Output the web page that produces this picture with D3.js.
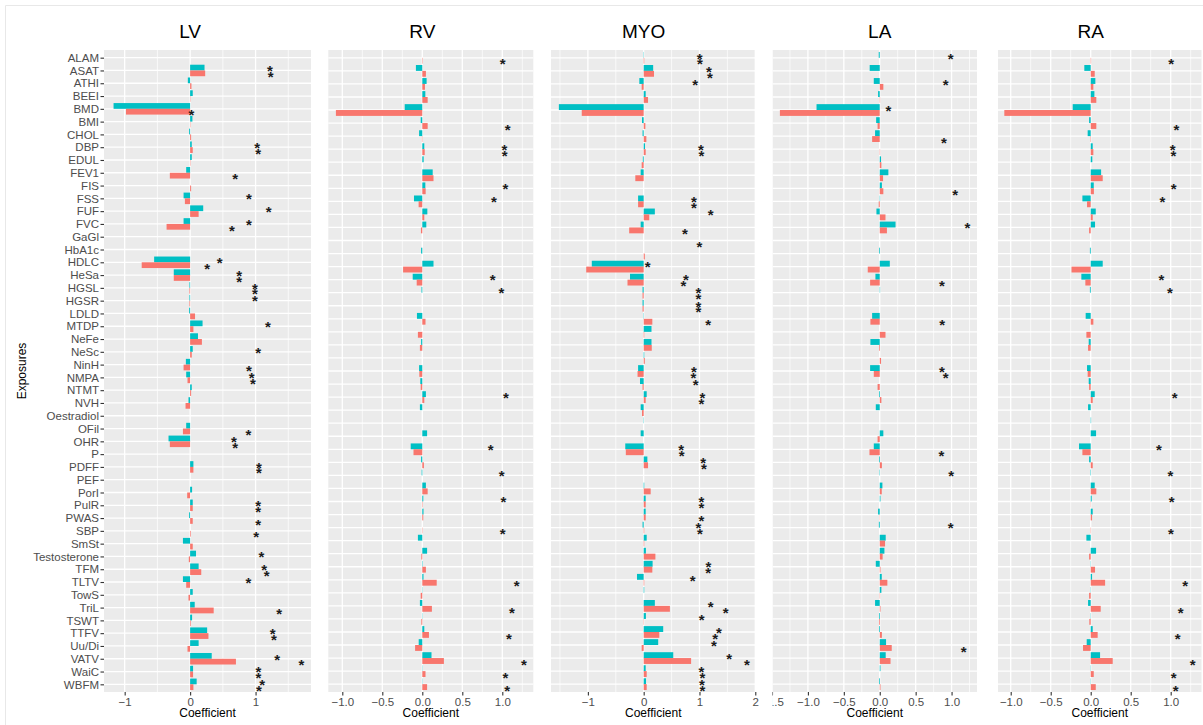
<!DOCTYPE html>
<html>
<head>
<meta charset="utf-8">
<script src="https://cdn.jsdelivr.net/npm/d3@7"></script>
<style>
  body { margin: 0; background: #fff; }
  svg { display: block; font-family: "Liberation Sans", Arial, sans-serif; }
</style>
</head>
<body>
<div id="chart"></div>
<script>
// exposures, LV panel has all 50, the other panels were fitted without "P"
const categories = ["ALAM","ASAT","ATHI","BEEI","BMD","BMI","CHOL","DBP","EDUL","FEV1",
  "FIS","FSS","FUF","FVC","GaGl","HbA1c","HDLC","HeSa","HGSL","HGSR",
  "LDLD","MTDP","NeFe","NeSc","NinH","NMPA","NTMT","NVH","Oestradiol","OFil",
  "OHR","P","PDFF","PEF","PorI","PulR","PWAS","SBP","SmSt","Testosterone",
  "TFM","TLTV","TowS","TriL","TSWT","TTFV","Uu/Di","VATV","WaiC","WBFM"]
const cardiacCategories = categories.filter(c => c !== "P")

// LV (50 values)
const lvBlue = [0, 0.22, -0.035, 0.04, -1.17, 0.035, -0.015, 0.025, 0.025, -0.06,
  0, -0.1, 0.2, -0.1, 0, 0, -0.55, -0.25, -0.01, -0.01,
  -0.015, 0.19, 0.12, 0.04, -0.065, -0.06, 0.025, -0.025, 0, -0.06,
  -0.33, 0, 0.05, 0, 0.03, 0.04, -0.015, 0, -0.11, 0.09,
  0.13, -0.11, 0.04, 0.07, 0.03, 0.26, 0.13, 0.33, 0.045, 0.1]
const lvRed = [0, 0.23, 0.02, 0.005, -0.98, 0.005, 0.015, 0.04, 0.005, -0.31,
  0.015, -0.08, 0.13, -0.36, 0, 0, -0.74, -0.25, -0.01, -0.01,
  0.075, 0.05, 0.18, 0.025, -0.1, -0.04, 0.015, -0.07, 0, -0.11,
  -0.31, 0, 0.05, 0, -0.045, 0.04, 0.04, 0.01, 0.04, -0.02,
  0.17, -0.06, -0.025, 0.36, 0.01, 0.28, -0.04, 0.70, 0.045, 0.05]
const lvSigBlue = ["ASAT","DBP","FSS","FUF","FVC","HDLC","HeSa","HGSL","HGSR","MTDP","NeSc",
  "NMPA","OHR","PDFF","PulR","Testosterone","TFM","TLTV","TTFV","VATV","WaiC","WBFM"]
const lvSigRed = ["ASAT","BMD","DBP","FEV1","FVC","HDLC","HeSa","HGSL","NinH","NMPA","OFil",
  "OHR","PDFF","PulR","PWAS","SBP","TFM","TriL","TTFV","VATV","WaiC","WBFM"]

// RV (49 values)
const rvBlue = [0, -0.08, 0.054, 0.038, -0.22, -0.02, -0.04, 0.025, 0.017, 0.13,
  0.038, -0.104, 0.063, 0.05, 0, -0.015, 0.14, -0.12, -0.01, 0,
  -0.067, 0, -0.015, 0, -0.04, -0.025, 0.045, -0.03, 0, 0.06,
  -0.145, -0.015, -0.008, 0.045, 0.0125, 0.015, 0, -0.055, 0.06, 0.005,
  0.015, 0.003, -0.03, 0.003, 0.025, -0.045, 0.115, 0.003, 0.003]
const rvRed = [0.005, 0.045, 0.033, 0.067, -1.08, 0.067, -0.005, 0.03, 0, 0.14,
  0.042, -0.046, 0.025, -0.017, 0, 0, -0.24, -0.07, 0, 0,
  0.04, -0.055, -0.03, 0, -0.037, -0.02, 0.025, 0, 0, 0,
  -0.11, 0.02, 0, 0.067, 0.005, 0.012, 0.004, 0, -0.012, 0.045,
  0.18, -0.02, 0.12, -0.012, 0.083, -0.09, 0.27, 0.04, 0.06]
const rvSigBlue = ["DBP","FIS","FSS","HeSa","HGSL","NTMT","OHR","PEF","PulR"]
const rvSigRed = ["ALAM","BMI","DBP","SBP","TLTV","TriL","TTFV","VATV","WaiC","WBFM"]

// MYO (49 values)
const myoBlue = [0.005, 0.17, -0.078, 0.036, -1.52, -0.03, -0.02, 0.024, -0.015, -0.054,
  0, -0.1, 0.2, -0.054, 0, 0, -0.93, -0.245, -0.02, -0.02,
  0.005, 0.14, 0.14, 0.01, -0.1, -0.066, 0.054, -0.054, 0.005, -0.054,
  -0.33, 0.066, 0, 0.01, 0.036, 0.036, -0.02, 0.054, 0.04, 0.16,
  -0.12, 0.01, 0.2, 0.04, 0.35, 0.26, 0.53, 0.036, 0.042]
const myoRed = [0.01, 0.185, -0.036, 0.078, -1.11, 0.03, 0.048, 0.036, -0.036, -0.15,
  0, -0.1, 0.1, -0.26, 0, 0.02, -1.03, -0.29, -0.02, -0.02,
  0.155, 0.01, 0.145, 0.02, -0.11, -0.02, 0.036, -0.03, 0, 0,
  -0.32, 0.078, 0, 0.125, 0.036, 0.036, 0.01, 0.01, 0.21, 0.155,
  0.01, 0, 0.47, 0.005, 0.28, -0.036, 0.85, 0.054, 0.054]
const myoSigBlue = ["ALAM","ASAT","ATHI","DBP","FSS","FUF","HDLC","HeSa","HGSL","HGSR","NinH",
  "NMPA","NTMT","OHR","PDFF","PulR","SBP","TFM","TLTV","TriL","TSWT","TTFV","Uu/Di","VATV","WaiC","WBFM"]
const myoSigRed = ["ALAM","ASAT","DBP","FSS","FVC","GaGl","HeSa","HGSL","HGSR","LDLD","NinH",
  "NTMT","OHR","PDFF","PulR","PWAS","SBP","TFM","TriL","TTFV","VATV","WaiC","WBFM"]

// LA (49 values)
const laBlue = [-0.014, -0.14, -0.083, -0.023, -0.88, -0.05, -0.065, 0, 0.018, 0.12,
  0.03, 0.005, -0.046, 0.22, 0, -0.01, 0.14, -0.06, 0.005, 0,
  -0.106, 0, -0.13, 0, -0.134, 0, -0.01, -0.055, 0, 0.05,
  -0.083, -0.01, -0.005, 0.037, 0.01, -0.023, -0.012, 0.083, 0.065, -0.055,
  0.028, 0.023, -0.065, -0.01, -0.01, 0.088, 0.083, 0.01, -0.01]
const laRed = [0, 0, 0.05, 0.005, -1.39, -0.03, -0.106, 0.005, 0.023, 0.046,
  0.05, -0.014, 0.08, 0.1, 0, 0, -0.167, -0.134, 0, 0,
  -0.13, 0.08, -0.01, 0.018, -0.083, -0.03, 0.023, 0, 0, -0.03,
  -0.143, 0.03, 0, 0.028, 0, 0.003, 0, 0.074, 0.04, 0.01,
  0.106, 0.005, 0.01, -0.01, 0.03, 0.167, 0.15, 0, 0.01]
const laSigBlue = ["ALAM","ATHI","BMD","FVC","NinH","PEF","SBP"]
const laSigRed = ["CHOL","FIS","HeSa","LDLD","NinH","OHR","Uu/Di"]

// RA (49 values)
const raBlue = [0, -0.08, 0.058, 0.046, -0.225, -0.02, -0.038, 0.025, 0.02, 0.13,
  0.038, -0.104, 0.063, 0.054, 0, -0.01, 0.15, -0.117, -0.01, 0,
  -0.063, 0, -0.025, 0, -0.046, -0.025, 0.05, -0.033, 0.005, 0.067,
  -0.146, -0.02, -0.005, 0.05, 0.0125, 0.025, 0, -0.054, 0.067, 0.003,
  0.017, 0.003, -0.033, 0.003, 0.025, -0.05, 0.117, 0.003, 0.003]
const raRed = [0.005, 0.05, 0.033, 0.07, -1.08, 0.07, -0.005, 0.033, 0, 0.15,
  0.04, -0.046, 0.025, -0.02, 0, 0, -0.24, -0.067, 0, 0,
  0.033, -0.054, -0.033, 0, -0.038, -0.02, 0.025, 0, 0, 0,
  -0.104, 0.025, 0, 0.07, 0.003, 0.017, 0.004, 0, -0.02, 0.054,
  0.18, -0.02, 0.125, -0.017, 0.087, -0.096, 0.275, 0.038, 0.063]
const raSigBlue = ["DBP","FIS","FSS","HeSa","HGSL","NTMT","OHR","PEF","PulR"]
const raSigRed = ["ALAM","BMI","DBP","SBP","TLTV","TriL","TTFV","VATV","WaiC","WBFM"]

// x ticks per panel
const lvTicks = [-1, 0, 1], lvMinor = [-0.5, 0.5, 1.5]
const rvTicks = [-1, -0.5, 0, 0.5, 1], rvMinor = [-0.75, -0.25, 0.25, 0.75, 1.25]
const myoTicks = [-1, 0, 1, 2], myoMinor = [-1.5, -0.5, 0.5, 1.5]
const laTicks = [-1.5, -1, -0.5, 0, 0.5, 1], laMinor = [-1.25, -0.75, -0.25, 0.25, 0.75, 1.25]
const raTicks = [-1, -0.5, 0, 0.5, 1], raMinor = [-0.75, -0.25, 0.25, 0.75, 1.25]

const blueColor = "#00BFC4"
const redColor = "#F8766D"

const width = 1203
const height = 725
const plotTop = 50, plotBottom = 692

const panels = [
  { name: "LV", cats: categories, blue: lvBlue, red: lvRed, sigBlue: lvSigBlue, sigRed: lvSigRed,
    range: [104, 311], domain: [-1.316, 1.847], ticks: lvTicks, minor: lvMinor, fmt: d3.format("d"), yAxis: true },
  { name: "RV", cats: cardiacCategories, blue: rvBlue, red: rvRed, sigBlue: rvSigBlue, sigRed: rvSigRed,
    range: [328.3, 533.3], domain: [-1.175, 1.3875], ticks: rvTicks, minor: rvMinor, fmt: d3.format(".1f") },
  { name: "MYO", cats: cardiacCategories, blue: myoBlue, red: myoRed, sigBlue: myoSigBlue, sigRed: myoSigRed,
    range: [551, 755.5], domain: [-1.661, 2.004], ticks: myoTicks, minor: myoMinor, fmt: d3.format("d") },
  { name: "LA", cats: cardiacCategories, blue: laBlue, red: laRed, sigBlue: laSigBlue, sigRed: laSigRed,
    range: [772.5, 977], domain: [-1.493, 1.354], ticks: laTicks, minor: laMinor, fmt: d3.format(".1f"), clipLeft: 772.5 },
  { name: "RA", cats: cardiacCategories, blue: raBlue, red: raRed, sigBlue: raSigBlue, sigRed: raSigRed,
    range: [998, 1201.5], domain: [-1.159, 1.385], ticks: raTicks, minor: raMinor, fmt: d3.format(".1f") },
]

const svg = d3.select("#chart").append("svg")
  .attr("width", width)
  .attr("height", height)

svg.append("path")
  .attr("d", `M5.5,${height} V5.5 H${width}`)
  .attr("fill", "none")
  .attr("stroke", "#e8e8e8")

const defs = svg.append("defs")

panels.forEach(p => {
  let x = d3.scaleLinear().domain(p.domain).range(p.range)
  let y = d3.scalePoint().domain(p.cats).range([plotTop, plotBottom]).padding(0.6)
  let barH = y.step() * 0.45

  let g = svg.append("g").attr("class", "panel panel-" + p.name)
  if (p.clipLeft) {
    defs.append("clipPath").attr("id", "clip-" + p.name)
      .append("rect").attr("x", p.clipLeft).attr("y", 0).attr("width", width).attr("height", height)
    g.attr("clip-path", `url(#clip-${p.name})`)
  }

  // background
  g.append("rect")
    .attr("x", p.range[0]).attr("y", plotTop)
    .attr("width", p.range[1] - p.range[0]).attr("height", plotBottom - plotTop)
    .attr("fill", "#EBEBEB")

  // grid
  g.append("g").selectAll("line")
    .data(p.minor)
    .join("line")
    .attr("x1", d => x(d)).attr("x2", d => x(d))
    .attr("y1", plotTop).attr("y2", plotBottom)
    .attr("stroke", "#fff").attr("stroke-width", 0.7)

  g.append("g").selectAll("line")
    .data(p.ticks.filter(d => x(d) >= p.range[0]))
    .join("line")
    .attr("x1", d => x(d)).attr("x2", d => x(d))
    .attr("y1", plotTop).attr("y2", plotBottom)
    .attr("stroke", "#fff").attr("stroke-width", 1.3)

  g.append("g").selectAll("line")
    .data(p.cats)
    .join("line")
    .attr("x1", p.range[0]).attr("x2", p.range[1])
    .attr("y1", d => y(d)).attr("y2", d => y(d))
    .attr("stroke", "#fff").attr("stroke-width", 1.3)

  // bars
  let rows = p.cats.map((c, i) => ({ cat: c, blue: p.blue[i], red: p.red[i] }))

  g.append("g").attr("class", "bars-blue").selectAll("rect")
    .data(rows)
    .join("rect")
    .attr("x", d => x(Math.min(0, d.blue)))
    .attr("width", d => Math.abs(x(d.blue) - x(0)))
    .attr("y", d => y(d.cat) - barH)
    .attr("height", barH)
    .attr("fill", blueColor)

  g.append("g").attr("class", "bars-red").selectAll("rect")
    .data(rows)
    .join("rect")
    .attr("x", d => x(Math.min(0, d.red)))
    .attr("width", d => Math.abs(x(d.red) - x(0)))
    .attr("y", d => y(d.cat))
    .attr("height", barH)
    .attr("fill", redColor)

  // significance stars sit at coefficient + 1
  let stars = []
  rows.forEach(d => {
    if (p.sigBlue.includes(d.cat)) stars.push({ v: d.blue + 1, cy: y(d.cat) - barH / 2 })
    if (p.sigRed.includes(d.cat)) stars.push({ v: d.red + 1, cy: y(d.cat) + barH / 2 })
  })

  g.append("g").attr("class", "stars").selectAll("text")
    .data(stars)
    .join("text")
    .attr("x", d => x(d.v))
    .attr("y", d => d.cy)
    .attr("dy", "0.58em")
    .attr("text-anchor", "middle")
    .style("font-size", "15px")
    .style("font-weight", "bold")
    .attr("fill", "#1a1a1a")
    .text("*")

  // x axis
  let xAxis = d3.axisBottom(x).tickValues(p.ticks).tickFormat(p.fmt).tickSize(3.5).tickPadding(2.5)
  g.append("g")
    .attr("class", "x axis")
    .attr("transform", `translate(0,${plotBottom})`)
    .call(xAxis)
    .call(a => a.select(".domain").remove())
    .call(a => a.selectAll("line").attr("stroke", "#333").attr("stroke-width", 1.1))
    .call(a => a.selectAll("text")
      .attr("fill", "#4D4D4D")
      .style("font-size", "11.5px")
      .style("font-family", "'Liberation Sans', Arial, sans-serif"))

  g.append("text")
    .text("Coefficient")
    .attr("x", (p.range[0] + p.range[1]) / 2)
    .attr("y", 717)
    .attr("text-anchor", "middle")
    .attr("fill", "#000")
    .style("font-size", "12px")

  // panel title sits over the zero line
  g.append("text")
    .text(p.name)
    .attr("x", x(0))
    .attr("y", 38)
    .attr("text-anchor", "middle")
    .attr("fill", "#000")
    .style("font-size", "19px")

  if (p.yAxis) {
    g.append("g")
      .attr("class", "y axis")
      .attr("transform", `translate(${p.range[0]},0)`)
      .call(d3.axisLeft(y).tickSize(3.5).tickPadding(1.5))
      .call(a => a.select(".domain").remove())
      .call(a => a.selectAll("line").attr("stroke", "#333").attr("stroke-width", 1.1))
      .call(a => a.selectAll("text")
        .attr("fill", "#4D4D4D")
        .style("font-size", "11.5px")
        .style("font-family", "'Liberation Sans', Arial, sans-serif"))

    g.append("text")
      .text("Exposures")
      .attr("transform", `translate(26,${(plotTop + plotBottom) / 2}) rotate(-90)`)
      .attr("text-anchor", "middle")
      .attr("fill", "#000")
      .style("font-size", "12px")
  }
})
</script>
</body>
</html>
